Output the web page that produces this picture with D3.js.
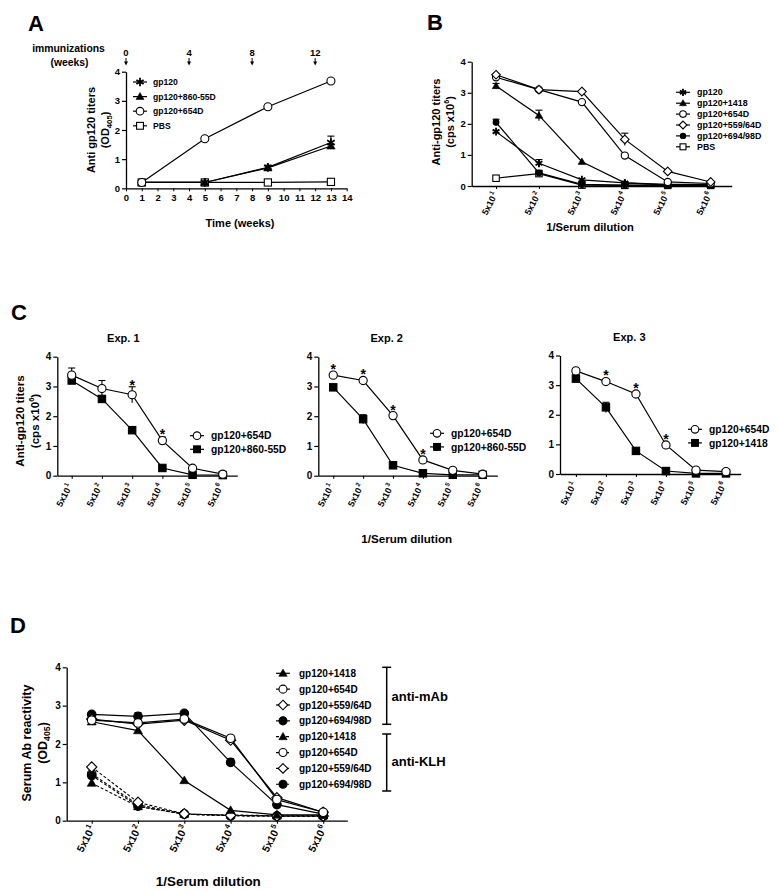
<!DOCTYPE html>
<html><head><meta charset="utf-8">
<script src="https://cdn.jsdelivr.net/npm/d3@7"></script>
<style>
body{margin:0;background:#fff}
text{font-family:Arial,"Liberation Sans",sans-serif;font-weight:bold;fill:#000}
</style>
</head><body><script>
// ---------------- DATA ----------------
// Panel A
const weeks = [1, 5, 9, 13];
const weekTicks = d3.range(0, 15);
const immunizationWeeks = [0, 4, 8, 12];
const aGp120 = [0.2, 0.2, 0.72, 1.57];
const aGp120Err = [0, 0, 0.07, 0.22];
const a86055D = [0.2, 0.2, 0.7, 1.45];
const a86055DErr = [0, 0, 0, 0.05];
const a654D = [0.2, 1.7, 2.8, 3.68];
const a654DErr = [0, 0, 0.06, 0];
const aPBS = [0.2, 0.2, 0.2, 0.22];
const yTicks = [0, 1, 2, 3, 4];

// Dilution categories (5x10^n)
const dilutionExponents = ["1", "2", "3", "4", "5", "6"];

// Panel B
const bGp120 = [1.75, 0.73, 0.2, 0.1, 0.05, 0.05];
const bGp120Err = [0, 0.12, 0, 0, 0, 0];
const b1418 = [3.22, 2.27, 0.78, 0.1, 0.03, 0.03];
const b1418Err = [0.08, 0.17, 0, 0, 0, 0];
const b654D = [3.5, 3.1, 2.7, 0.98, 0.13, 0.08];
const b559 = [3.58, 3.1, 3.04, 1.5, 0.47, 0.13];
const b559Err = [0, 0, 0, 0.2, 0, 0];
const b694 = [2.05, 0.42, 0.05, 0.03, 0.02, 0.02];
const b694Err = [0.1, 0, 0, 0, 0, 0];
const bPBS = [0.25, 0.4, 0.03, 0.02, 0.02, 0.02];

// Panel C
const c1_654D = [3.38, 2.93, 2.72, 1.18, 0.25, 0.05];
const c1_654DErr = [0.24, 0.27, 0.27, 0.12, 0, 0];
const c1_86055D = [3.2, 2.58, 1.53, 0.26, 0.03, 0.02];
const c1Stars = [2, 3];
const c2_654D = [3.38, 3.2, 2.02, 0.53, 0.18, 0.05];
const c2_86055D = [2.97, 1.9, 0.35, 0.08, 0.03, 0.03];
const c2_86055DErr = [0, 0.15, 0, 0, 0, 0];
const c2Stars = [0, 1, 2, 3];
const c3_654D = [3.48, 3.12, 2.7, 0.98, 0.13, 0.08];
const c3_1418 = [3.22, 2.25, 0.78, 0.1, 0.02, 0.02];
const c3_1418Err = [0.12, 0.17, 0, 0, 0, 0];
const c3Stars = [1, 2, 3];

// Panel D
const dMab1418 = [2.58, 2.35, 1.05, 0.27, 0.15, 0.15];
const dMab654D = [2.62, 2.55, 2.65, 2.15, 0.55, 0.22];
const dMab559 = [2.65, 2.52, 2.62, 2.1, 0.6, 0.22];
const dMab694 = [2.77, 2.72, 2.8, 1.52, 0.42, 0.17];
const dMab694Err = [0, 0.1, 0, 0.1, 0, 0];
const dKlh1418 = [0.98, 0.37, 0.17, 0.15, 0.13, 0.13];
const dKlh654D = [1.22, 0.42, 0.17, 0.13, 0.12, 0.12];
const dKlh559 = [1.4, 0.48, 0.18, 0.14, 0.12, 0.12];
const dKlh694 = [1.18, 0.38, 0.17, 0.13, 0.12, 0.12];

// ---------------- DRAWING ----------------
const svg = d3.select("body").append("svg").attr("width", 778).attr("height", 893);

function drawMarker(g, type, x, y, r) {
  const sw = 1.1;
  if (type === "circO" || type === "circF") {
    const rr = type === "circF" ? r * (g.fScale || 1) : r;
    g.append("circle").attr("cx", x).attr("cy", y).attr("r", rr)
      .attr("fill", type === "circF" ? "#000" : "#fff").attr("stroke", "#000").attr("stroke-width", sw);
  } else if (type === "sqO" || type === "sqF") {
    g.append("rect").attr("x", x - r * 0.9).attr("y", y - r * 0.9).attr("width", r * 1.8).attr("height", r * 1.8)
      .attr("fill", type === "sqF" ? "#000" : "#fff").attr("stroke", "#000").attr("stroke-width", sw);
  } else if (type === "tri") {
    const p = [[x, y - r * 1.05], [x + r * 1.05, y + r * 0.75], [x - r * 1.05, y + r * 0.75]];
    g.append("path").attr("d", "M" + p.join("L") + "Z").attr("fill", "#000").attr("stroke", "#000").attr("stroke-width", 0.6);
  } else if (type === "dia") {
    const k = r * 1.2;
    const p = [[x, y - k], [x + k, y], [x, y + k], [x - k, y]];
    g.append("path").attr("d", "M" + p.join("L") + "Z").attr("fill", "#fff").attr("stroke", "#000").attr("stroke-width", sw);
  } else if (type === "star") {
    const k = r * 1.1;
    let d = "";
    for (const a of [90, 30, -30]) {
      const rad = a * Math.PI / 180;
      d += `M${x - k * Math.cos(rad)},${y - k * Math.sin(rad)}L${x + k * Math.cos(rad)},${y + k * Math.sin(rad)}`;
    }
    g.append("path").attr("d", d).attr("stroke", "#000").attr("stroke-width", 1.8).attr("fill", "none");
  }
}

function yAxisDraw(g, y, x0, fs) {
  const ax = g.append("g").attr("transform", `translate(${x0},0)`)
    .call(d3.axisLeft(y).tickValues(yTicks).tickSize(4).tickSizeOuter(0).tickFormat(d3.format("d")));
  ax.select(".domain").attr("stroke-width", 1.3);
  ax.selectAll(".tick line").attr("stroke-width", 1.2);
  ax.selectAll(".tick text").attr("font-size", fs).attr("font-weight", "bold").attr("font-family", "Arial, Liberation Sans, sans-serif").attr("x", -6);
}

function catXAxis(g, x, y0, fs, dxA, dyA) {
  const ax = g.append("g").attr("transform", `translate(0,${y0})`)
    .call(d3.axisBottom(x).tickValues(d3.range(6)).tickSize(3).tickSizeOuter(0).tickFormat(""));
  ax.select(".domain").attr("stroke-width", 1.3);
  ax.selectAll(".tick line").attr("stroke-width", 1.1);
  dilutionExponents.forEach((e, i) => {
    const t = g.append("text").attr("text-anchor", "end").attr("font-size", fs).attr("font-weight", "normal")
      .attr("transform", `translate(${x(i) + dxA},${y0 + dyA}) rotate(-63)`);
    t.append("tspan").text("5x10");
    t.append("tspan").attr("dx", 1).attr("dy", -fs * 0.45).attr("font-size", fs * 0.7).text(e);
  });
}

function drawSeries(g, x, y, xs, series, r) {
  series.forEach(s => {
    const line = d3.line().x((d, i) => x(xs[i])).y(d => y(d));
    g.append("path").attr("d", line(s.v)).attr("fill", "none").attr("stroke", "#000")
      .attr("stroke-width", s.dash ? 1.1 : 1.2).attr("stroke-dasharray", s.dash ? "3,2" : null);
  });
  series.forEach(s => {
    if (!s.e) return;
    s.v.forEach((v, i) => {
      const e = s.e[i];
      if (!e) return;
      const cx = x(xs[i]);
      g.append("line").attr("x1", cx).attr("x2", cx).attr("y1", y(v - e)).attr("y2", y(v + e)).attr("stroke", "#000").attr("stroke-width", 1.1);
      g.append("line").attr("x1", cx - 3.5).attr("x2", cx + 3.5).attr("y1", y(v + e)).attr("y2", y(v + e)).attr("stroke", "#000").attr("stroke-width", 1.1);
    });
  });
  series.forEach(s => {
    s.v.forEach((v, i) => drawMarker(g, s.m, x(xs[i]), y(v), r));
  });
}

function drawLegend(g, items, mx, tx, y0, dy, fs, r) {
  items.forEach((it, i) => {
    const yy = y0 + i * dy;
    g.append("line").attr("x1", mx - 7).attr("x2", mx + 7).attr("y1", yy).attr("y2", yy)
      .attr("stroke", "#000").attr("stroke-width", 1.2).attr("stroke-dasharray", it.dash ? "3,2" : null);
    drawMarker(g, it.m, mx, yy, r);
    g.append("text").attr("x", tx).attr("y", yy + fs * 0.35).attr("font-size", fs).text(it.name);
  });
}

function yTitle(g, cx, cy, fs, lines) {
  lines.forEach((l, i) => {
    const t = g.append("text").attr("text-anchor", "middle").attr("font-size", fs)
      .attr("transform", `translate(${cx + i * fs * 1.3},${cy}) rotate(-90)`);
    l.forEach(part => {
      const ts = t.append("tspan").text(part.t);
      if (part.sub) ts.attr("font-size", fs * 0.7).attr("dy", fs * 0.25);
      if (part.sup) ts.attr("font-size", fs * 0.65).attr("dy", -fs * 0.4);
      if (part.back) ts.attr("dy", part.back);
    });
  });
}

function panelLetter(t, x, y) {
  svg.append("text").attr("x", x).attr("y", y).attr("font-size", 22).text(t);
}

// ===== Panel A =====
{
  const g = svg.append("g");
  const x = d3.scaleLinear().domain([0, 14]).range([126, 346.7]);
  const y = d3.scaleLinear().domain([0, 4]).range([188.3, 71.7]);
  const ax = g.append("g").attr("transform", "translate(0,188.3)")
    .call(d3.axisBottom(x).tickValues(weekTicks).tickSize(3).tickSizeOuter(0));
  ax.select(".domain").attr("stroke-width", 1.3);
  ax.selectAll(".tick text").attr("font-size", 9.5).attr("font-weight", "bold").attr("font-family", "Arial, Liberation Sans, sans-serif").attr("y", 6);
  yAxisDraw(g, y, 126, 9.5);
  drawSeries(g, x, y, weeks, [
    { v: aPBS, m: "sqO" },
    { v: a86055D, e: a86055DErr, m: "tri" },
    { v: aGp120, e: aGp120Err, m: "star" },
    { v: a654D, e: a654DErr, m: "circO" }
  ], 4);
  drawLegend(g, [
    { name: "gp120", m: "star" },
    { name: "gp120+860-55D", m: "tri" },
    { name: "gp120+654D", m: "circO" },
    { name: "PBS", m: "sqO" }
  ], 140, 153, 82, 14.6, 8.6, 3.8);
  g.append("text").attr("x", 240).attr("y", 226.5).attr("text-anchor", "middle").attr("font-size", 11).text("Time (weeks)");
  yTitle(g, 95, 130, 11, [[{ t: "Anti gp120 titers" }], [{ t: "(OD" }, { t: "405", sub: true }, { t: ")", back: -11 * 0.25 }]]);
  g.append("text").attr("x", 68.5).attr("y", 52).attr("text-anchor", "middle").attr("font-size", 10.4).text("immunizations");
  g.append("text").attr("x", 69.5).attr("y", 65.5).attr("text-anchor", "middle").attr("font-size", 10.4).text("(weeks)");
  immunizationWeeks.forEach(w => {
    g.append("text").attr("x", x(w)).attr("y", 55.5).attr("text-anchor", "middle").attr("font-size", 9.5).text(w);
    g.append("line").attr("x1", x(w)).attr("x2", x(w)).attr("y1", 58).attr("y2", 62).attr("stroke", "#000").attr("stroke-width", 1);
    g.append("path").attr("d", `M${x(w) - 2},61.5L${x(w) + 2},61.5L${x(w)},65.5Z`).attr("fill", "#000");
  });
  panelLetter("A", 28, 31);
}

// ===== Panel B =====
{
  const g = svg.append("g");
  g.fScale = 0.8;
  const x = d3.scaleLinear().domain([-0.567, 5.49]).range([471.7, 731.7]);
  const y = d3.scaleLinear().domain([0, 4]).range([186, 61.7]);
  catXAxis(g, x, 186, 9, 2, 8);
  yAxisDraw(g, y, 471.7, 9.5);
  drawSeries(g, x, y, d3.range(6), [
    { v: bPBS, m: "sqO" },
    { v: b694, e: b694Err, m: "circF" },
    { v: bGp120, e: bGp120Err, m: "star" },
    { v: b1418, e: b1418Err, m: "tri" },
    { v: b654D, m: "circO" },
    { v: b559, e: b559Err, m: "dia" }
  ], 3.6);
  drawLegend(g, [
    { name: "gp120", m: "star" },
    { name: "gp120+1418", m: "tri" },
    { name: "gp120+654D", m: "circO" },
    { name: "gp120+559/64D", m: "dia" },
    { name: "gp120+694/98D", m: "circF" },
    { name: "PBS", m: "sqO" }
  ], 683, 697, 92.3, 10.9, 8.9, 3.3);
  g.append("text").attr("x", 590).attr("y", 231).attr("text-anchor", "middle").attr("font-size", 11.2).text("1/Serum dilution");
  yTitle(g, 439.5, 122, 11, [[{ t: "Anti-gp120 titers" }], [{ t: "(cps x10" }, { t: "6", sup: true }, { t: ")", back: 11 * 0.4 }]]);
  panelLetter("B", 427, 30);
}

// ===== Panel C =====
function cPanel(opt) {
  const g = svg.append("g");
  const x = d3.scaleLinear().domain(opt.xd).range(opt.xr);
  const y = d3.scaleLinear().domain([0, 4]).range(opt.yr);
  catXAxis(g, x, opt.yr[0], 9, 1, 10);
  yAxisDraw(g, y, opt.xr[0], 10);
  const r = 4.1;
  drawSeries(g, x, y, d3.range(6), [
    { v: opt.b, e: opt.be, m: "sqF" },
    { v: opt.a, e: opt.ae, m: "circO" }
  ], r);
  opt.stars.forEach(i => {
    const top = Math.min(y(opt.a[i] + (opt.ae ? opt.ae[i] : 0)), y(opt.a[i]) - r);
    g.append("text").attr("x", x(i)).attr("y", top + 3).attr("text-anchor", "middle").attr("font-size", 14).text("*");
  });
  drawLegend(g, [
    { name: "gp120+654D", m: "circO" },
    { name: opt.bName, m: "sqF" }
  ], opt.lx, opt.lx + 14, opt.ly, 13.6, 10.3, 3.8);
  g.append("text").attr("x", opt.tx).attr("y", opt.ty).attr("text-anchor", "middle").attr("font-size", 11).text(opt.title);
  return g;
}
{
  const g1 = cPanel({ xd: [-0.477, 5.48], xr: [57.3, 237.3], yr: [475.7, 356.7], a: c1_654D, ae: c1_654DErr, b: c1_86055D,
    stars: c1Stars, bName: "gp120+860-55D", lx: 197, ly: 435.7, tx: 123.3, ty: 342 , title: "Exp. 1" });
  yTitle(g1, 24, 421, 11.6, [[{ t: "Anti-gp120 titers" }], [{ t: "(cps x10" }, { t: "6", sup: true }, { t: ")", back: 11.6 * 0.4 }]]);
  cPanel({ xd: [-0.5, 5.49], xr: [318.3, 497.3], yr: [475.7, 356.7], a: c2_654D, b: c2_86055D, be: c2_86055DErr,
    stars: c2Stars, bName: "gp120+860-55D", lx: 437, ly: 433.3, tx: 386.7, ty: 342, title: "Exp. 2" });
  cPanel({ xd: [-0.53, 5.49], xr: [560, 740.7], yr: [474, 355.5], a: c3_654D, b: c3_1418, be: c3_1418Err,
    stars: c3Stars, bName: "gp120+1418", lx: 695, ly: 429.3, tx: 629.3, ty: 340.5, title: "Exp. 3" });
  svg.append("text").attr("x", 406.7).attr("y", 542.5).attr("text-anchor", "middle").attr("font-size", 11.6).text("1/Serum dilution");
  panelLetter("C", 11, 320);
}

// ===== Panel D =====
{
  const g = svg.append("g");
  const x = d3.scaleLinear().domain([-0.54, 5.52]).range([66.7, 347.3]);
  const y = d3.scaleLinear().domain([0, 4]).range([820.7, 667.3]);
  catXAxis(g, x, 820.7, 10.5, 4, 7);
  yAxisDraw(g, y, 66.7, 10);
  drawSeries(g, x, y, d3.range(6), [
    { v: dKlh1418, m: "tri", dash: true },
    { v: dKlh654D, m: "circO", dash: true },
    { v: dKlh694, m: "circF", dash: true },
    { v: dKlh559, m: "dia", dash: true },
    { v: dMab1418, m: "tri" },
    { v: dMab694, e: dMab694Err, m: "circF" },
    { v: dMab559, m: "dia" },
    { v: dMab654D, m: "circO" }
  ], 4.3);
  const names = ["gp120+1418", "gp120+654D", "gp120+559/64D", "gp120+694/98D"];
  const ms = ["tri", "circO", "dia", "circF"];
  const items = names.map((n, i) => ({ name: n, m: ms[i] })).concat(names.map((n, i) => ({ name: n, m: ms[i], dash: true })));
  drawLegend(g, items, 283, 299, 673.3, 15.85, 10, 4);
  const bx = 386.7;
  [[667.3, 724.3, "anti-mAb", 700.5], [734, 791, "anti-KLH", 766]].forEach(([a, b, lab, ty]) => {
    g.append("line").attr("x1", bx).attr("x2", bx).attr("y1", a).attr("y2", b).attr("stroke", "#000").attr("stroke-width", 1.5);
    g.append("line").attr("x1", bx - 4.5).attr("x2", bx + 4.5).attr("y1", a).attr("y2", a).attr("stroke", "#000").attr("stroke-width", 1.5);
    g.append("line").attr("x1", bx - 4.5).attr("x2", bx + 4.5).attr("y1", b).attr("y2", b).attr("stroke", "#000").attr("stroke-width", 1.5);
    g.append("text").attr("x", 391.5).attr("y", ty).attr("font-size", 13).text(lab);
  });
  g.append("text").attr("x", 208.3).attr("y", 885.5).attr("text-anchor", "middle").attr("font-size", 13.4).text("1/Serum dilution");
  yTitle(g, 31, 743, 12.5, [[{ t: "Serum Ab reactivity" }], [{ t: "(OD" }, { t: "405", sub: true }, { t: ")", back: -12.5 * 0.25 }]]);
  panelLetter("D", 10, 633);
}
</script></body></html>
